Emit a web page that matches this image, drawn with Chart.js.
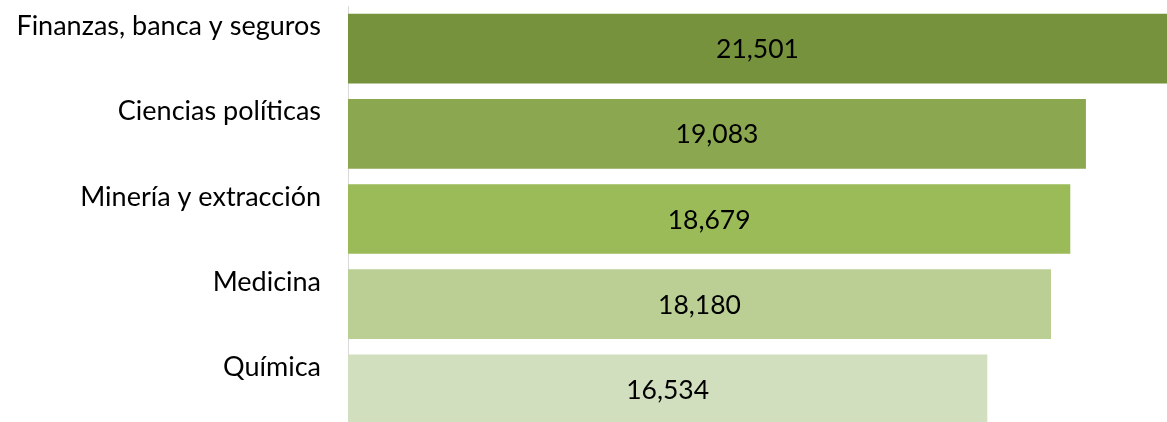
<!DOCTYPE html>
<html>
<head>
<meta charset="utf-8">
<script src="https://cdn.jsdelivr.net/npm/chart.js@4"></script>
<style>
  html, body { margin: 0; padding: 0; overflow: hidden; background: #fff; }
</style>
</head>
<body>
<canvas id="bar-chart" width="1167" height="440"></canvas>
<script>
// datos
const categorias = ["Finanzas, banca y seguros", "Ciencias políticas", "Minería y extracción", "Medicina", "Química"];
const valores = [21501, 19083, 18679, 18180, 16534];
const colores = ["#76923C", "#8BA74F", "#9BBB59", "#BBCF95", "#D2DFBE"];

const fuente = "Lato, 'Open Sans', sans-serif";

// etiquetas de valor dentro de cada barra
const etiquetasValor = {
    id: 'etiquetasValor',
    afterDatasetsDraw(chart) {
        const ctx = chart.ctx;
        const area = chart.chartArea;
        const meta = chart.getDatasetMeta(0);
        ctx.save();
        ctx.font = "26.5px " + fuente;
        ctx.fillStyle = "#000";
        ctx.textAlign = "center";
        ctx.textBaseline = "middle";
        meta.data.forEach((bar, i) => {
            const der = Math.min(bar.x, area.right);
            const x = (bar.base + der) / 2;
            ctx.fillText(valores[i].toLocaleString('en-US'), x, bar.y + 1);
        });
        ctx.restore();
    }
};

const chart = new Chart(document.getElementById("bar-chart"), {
    type: 'bar',
    data: {
        labels: categorias.map(c => [c, ""]),
        datasets: [{
            data: valores,
            backgroundColor: colores,
            borderWidth: 0,
            categoryPercentage: 0.818,
            barPercentage: 1
        }]
    },
    options: {
        indexAxis: 'y',
        responsive: false,
        animation: false,
        layout: { padding: { top: 6, bottom: 8, left: 0, right: 0 } },
        plugins: {
            legend: { display: false },
            tooltip: { enabled: false }
        },
        scales: {
            x: {
                display: false,
                min: 0,
                max: 21180
            },
            y: {
                afterFit(scale) {
                    scale.width = 348;
                    scale.paddingTop = 0;
                    scale.paddingBottom = 0;
                },
                grid: { display: false, drawTicks: false },
                border: { display: true, color: "#D9D9D9", width: 1 },
                ticks: {
                    autoSkip: false,
                    padding: 27,
                    color: "#000",
                    font: { family: fuente, size: 27, lineHeight: 1.63 }
                }
            }
        }
    },
    plugins: [etiquetasValor]
});
</script>
</body>
</html>
